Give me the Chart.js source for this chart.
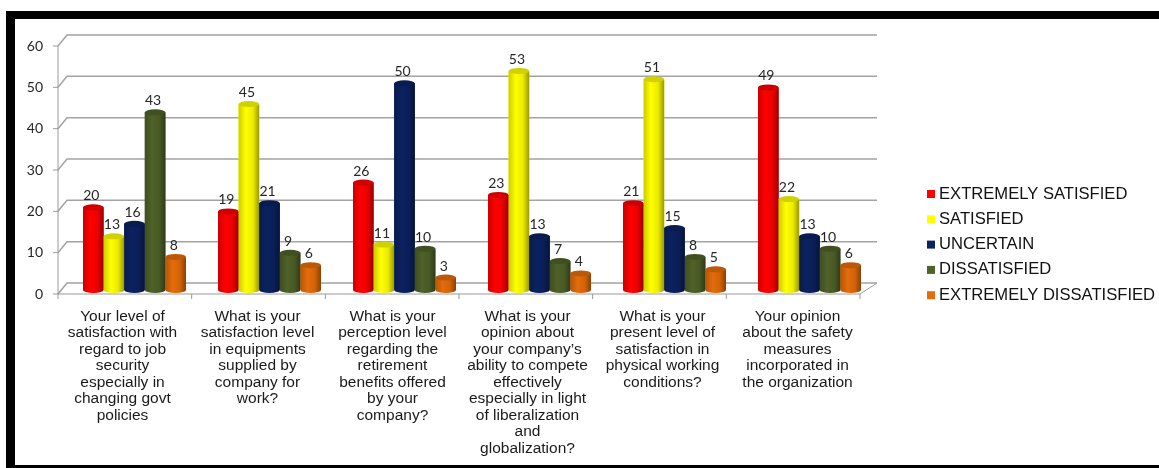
<!DOCTYPE html>
<html>
<head>
<meta charset="utf-8">
<script src="https://cdn.jsdelivr.net/npm/chart.js@4/dist/chart.umd.min.js"></script>
<style>
  html, body { margin: 0; padding: 0; background: #fff; }
  #wrap { position: relative; width: 1159px; height: 468px; overflow: hidden; }
  #chart { position: absolute; left: 0; top: 0; }
  .band { position: absolute; background: #000; }
</style>
</head>
<body>
<div id="wrap">
  <canvas id="chart" width="1159" height="468"></canvas>
  <div class="band" style="left:6px;top:11px;width:1153px;height:8px"></div>
  <div class="band" style="left:6px;top:11px;width:9px;height:457px"></div>
  <div class="band" style="left:6px;top:465px;width:1153px;height:3px"></div>
</div>
<script>
const categories = [
  ["Your level of", "satisfaction with", "regard to job", "security", "especially in", "changing govt", "policies"],
  ["What is your", "satisfaction level", "in equipments", "supplied by", "company for", "work?"],
  ["What is your", "perception level", "regarding the", "retirement", "benefits offered", "by your", "company?"],
  ["What is your", "opinion about", "your company\u2019s", "ability to compete", "effectively", "especially in light", "of liberalization", "and", "globalization?"],
  ["What is your", "present level of", "satisfaction in", "physical working", "conditions?"],
  ["Your opinion", "about the safety", "measures", "incorporated in", "the organization"]
];
const seriesNames = ["EXTREMELY SATISFIED", "SATISFIED", "UNCERTAIN", "DISSATISFIED", "EXTREMELY DISSATISFIED"];
const extremelySatisfied = [20, 19, 26, 23, 21, 49];
const satisfied = [13, 45, 11, 53, 51, 22];
const uncertain = [16, 21, 50, 13, 15, 13];
const dissatisfied = [43, 9, 10, 7, 8, 10];
const extremelyDissatisfied = [8, 6, 3, 4, 5, 6];
const yTicks = [0, 10, 20, 30, 40, 50, 60];

const colors = ["#ff0000", "#ffff00", "#0b2260", "#4f6228", "#e46c0a"];
const values = [extremelySatisfied, satisfied, uncertain, dissatisfied, extremelyDissatisfied];

// depth of the fake 3d box
const FRONT_DX = 9, FRONT_DY = 4, BACK_DY = 7, FLOOR_RIGHT_DX = 17;

function shade(hex, f) {
  const n = parseInt(hex.slice(1), 16);
  const r = Math.round(((n >> 16) & 255) * f);
  const g = Math.round(((n >> 8) & 255) * f);
  const b = Math.round((n & 255) * f);
  return `rgb(${Math.min(r,255)},${Math.min(g,255)},${Math.min(b,255)})`;
}

const boxPlugin = {
  id: "box3d",
  beforeDatasetsDraw(chart) {
    const { ctx, chartArea: a, scales: { y } } = chart;
    const fx = a.left - FRONT_DX;
    ctx.save();
    ctx.strokeStyle = "#a3a3a3";
    ctx.lineWidth = 1.5;
    yTicks.forEach(v => {
      const py = y.getPixelForValue(v);
      ctx.beginPath();
      ctx.moveTo(fx, py + FRONT_DY);
      ctx.lineTo(a.left, py - BACK_DY);
      ctx.lineTo(a.right, py - BACK_DY);
      ctx.stroke();
    });
    ctx.lineWidth = 1;
    ctx.strokeStyle = "#9a9a9a";
    const y0 = y.getPixelForValue(0) + FRONT_DY;
    const yTop = y.getPixelForValue(60) + FRONT_DY;
    ctx.beginPath();
    ctx.moveTo(fx, yTop);
    ctx.lineTo(fx, y0);
    yTicks.forEach(v => {
      const py = y.getPixelForValue(v) + FRONT_DY;
      ctx.moveTo(fx - 5, py);
      ctx.lineTo(fx, py);
    });
    const frx = a.right - FLOOR_RIGHT_DX;
    ctx.moveTo(fx, y0);
    ctx.lineTo(frx, y0);
    ctx.lineTo(a.right, y.getPixelForValue(0) - BACK_DY);
    const n = categories.length;
    for (let k = 0; k <= n; k++) {
      const tx = fx + k * (frx - fx) / n;
      ctx.moveTo(tx, y0);
      ctx.lineTo(tx, y0 + 5);
    }
    ctx.stroke();
    ctx.restore();
  },
  afterDatasetsDraw(chart) {
    const { ctx } = chart;
    ctx.save();
    chart.data.datasets.forEach((ds, di) => {
      const meta = chart.getDatasetMeta(di);
      meta.data.forEach((el, i) => {
        const w = el.width, l = el.x - w / 2, top = el.y, base = el.base;
        const rx = w / 2, ry = 3;
        const base_c = colors[di];
        const g = ctx.createLinearGradient(l, 0, l + w, 0);
        g.addColorStop(0, shade(base_c, 0.8));
        g.addColorStop(0.35, shade(base_c, 1.0));
        g.addColorStop(0.7, shade(base_c, 0.92));
        g.addColorStop(1, shade(base_c, 0.6));
        ctx.fillStyle = g;
        ctx.beginPath();
        ctx.moveTo(l, top);
        ctx.lineTo(l, base);
        ctx.ellipse(el.x, base, rx, ry, 0, Math.PI, 0, true);
        ctx.lineTo(l + w, top);
        ctx.closePath();
        ctx.fill();
        ctx.fillStyle = shade(base_c, 0.82);
        ctx.beginPath();
        ctx.ellipse(el.x, top, rx, ry, 0, 0, Math.PI * 2);
        ctx.fill();
      });
    });
    // value labels
    ctx.fillStyle = "#262626";
    ctx.font = "14px Lato";
    ctx.textAlign = "center";
    ctx.textBaseline = "alphabetic";
    chart.data.datasets.forEach((ds, di) => {
      chart.getDatasetMeta(di).data.forEach((el, i) => {
        ctx.fillText(String(ds.data[i]), el.x - 2, el.y - 7);
      });
    });
    ctx.restore();
  },
  afterDraw(chart) {
    const { ctx } = chart;
    ctx.save();
    ctx.font = "16.6px 'Liberation Sans', Arial";
    ctx.textBaseline = "middle";
    ctx.textAlign = "left";
    chart.data.datasets.forEach((ds, di) => {
      const cy = 194 + di * 25.3;
      ctx.fillStyle = ds.backgroundColor;
      ctx.fillRect(927, cy - 4, 8, 8);
      ctx.fillStyle = "#111";
      ctx.fillText(ds.label, 939, cy);
    });
    ctx.restore();
  }
};

new Chart(document.getElementById("chart"), {
  type: "bar",
  data: {
    labels: categories,
    datasets: seriesNames.map((name, i) => ({
      label: name,
      data: values[i],
      backgroundColor: colors[i],
      borderWidth: 0,
      categoryPercentage: 0.763,
      barPercentage: 1.0
    }))
  },
  options: {
    responsive: false,
    animation: false,
    layout: { padding: { top: 42, right: 282, bottom: 0, left: 0 } },
    plugins: {
      legend: { display: false },
      tooltip: { enabled: false }
    },
    scales: {
      x: {
        grid: { display: false, drawTicks: false },
        border: { display: false },
        ticks: {
          color: "#1a1a1a",
          font: { family: "'Liberation Sans', Arial", size: 15.5, lineHeight: 1.065 },
          padding: 18,
          labelOffset: -12,
          maxRotation: 0,
          autoSkip: false
        },
        afterFit(scale) { scale.height = 178; }
      },
      y: {
        min: 0,
        max: 60,
        grid: { display: false, drawTicks: false },
        border: { display: false },
        ticks: {
          stepSize: 10,
          color: "#262626",
          font: { family: "Lato", size: 14 },
          padding: 24,
          labelOffset: 4
        },
        afterFit(scale) { scale.width = 67; }
      }
    }
  },
  plugins: [boxPlugin]
});
</script>
</body>
</html>
